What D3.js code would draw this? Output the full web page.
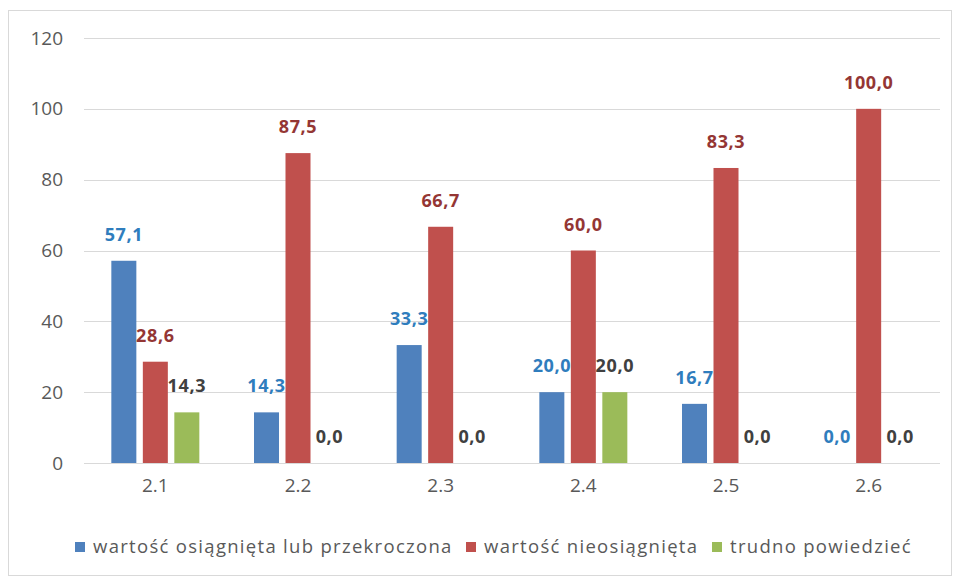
<!DOCTYPE html>
<html><head><meta charset="utf-8">
<script src="https://cdn.jsdelivr.net/npm/d3@7"></script>
<style>body{margin:0;background:#fff;}svg{display:block;font-family:"Open Sans",sans-serif;}</style>
</head><body><svg id="c" width="956" height="579"></svg>
<script>
const categories = ["2.1","2.2","2.3","2.4","2.5","2.6"];
const seriesNames = ["wartość osiągnięta lub przekroczona","wartość nieosiągnięta","trudno powiedzieć"];
const achieved = [57.1,14.3,33.3,20.0,16.7,0.0];
const notAchieved = [28.6,87.5,66.7,60.0,83.3,100.0];
const hardToSay = [14.3,0.0,0.0,20.0,0.0,0.0];
const yTicks = [0,20,40,60,80,100,120];
const barColors = ["#4F81BD","#C0504D","#9BBB59"];
const labelColors = ["#2F7DBD","#943634","#404040"];

const seriesValues = [achieved, notAchieved, hardToSay];
const svg = d3.select("#c");
svg.append("rect").attr("x",8.5).attr("y",10.5).attr("width",943).attr("height",565)
  .attr("fill","#fff").attr("stroke","#d9d9d9").attr("stroke-width",1);

const x0 = d3.scaleBand().domain(categories).range([84,940]).padding(0);
const x1 = d3.scaleBand().domain(d3.range(3)).range([0,x0.bandwidth()]).paddingInner(0.206).paddingOuter(0.868);
const y = d3.scaleLinear().domain([0,120]).range([463,38]);

const grid = svg.append("g");
grid.selectAll("line").data(yTicks).join("line")
  .attr("x1",84).attr("x2",940).attr("y1",d=>Math.round(y(d))+0.5).attr("y2",d=>Math.round(y(d))+0.5)
  .attr("stroke","#d9d9d9").attr("stroke-width",1);

const yAxis = svg.append("g").attr("transform","translate(84,0)")
  .call(d3.axisLeft(y).tickValues(yTicks).tickSize(0).tickPadding(21).tickFormat(d3.format("d")));
yAxis.select(".domain").remove();
yAxis.selectAll("text").attr("font-size",19).attr("fill","#595959").attr("font-family","Open Sans");

const xAxis = svg.append("g").attr("transform","translate(0,463)")
  .call(d3.axisBottom(x0).tickSize(0).tickPadding(16));
xAxis.select(".domain").remove();
xAxis.selectAll("text").attr("font-size",19).attr("fill","#595959").attr("font-family","Open Sans");

const data = [];
categories.forEach((c,i)=>seriesValues.forEach((s,j)=>data.push({c,j,v:s[i]})));

svg.append("g").selectAll("rect").data(data).join("rect")
  .attr("x",d=>x0(d.c)+x1(d.j)).attr("width",x1.bandwidth())
  .attr("y",d=>y(d.v)).attr("height",d=>y(0)-y(d.v))
  .attr("fill",d=>barColors[d.j]);

svg.append("g").selectAll("text").data(data).join("text")
  .attr("x",d=>x0(d.c)+x1(d.j)+x1.bandwidth()/2).attr("y",d=>y(d.v)-20)
  .attr("text-anchor","middle").attr("font-size",18).attr("font-weight","bold")
  .attr("letter-spacing","0.6px")
  .attr("fill",d=>labelColors[d.j]).text(d=>d3.format(".1f")(d.v).replace(".",","));

// legend
const legendX = [75,466,712];
const lg = svg.append("g");
seriesNames.forEach((n,j)=>{
  lg.append("rect").attr("x",legendX[j]).attr("y",542).attr("width",10).attr("height",10).attr("fill",barColors[j]);
  lg.append("text").attr("x",legendX[j]+18).attr("y",553).attr("font-size",18.5)
    .attr("letter-spacing","1.3px").attr("fill","#595959").text(n);
});
</script></body></html>
